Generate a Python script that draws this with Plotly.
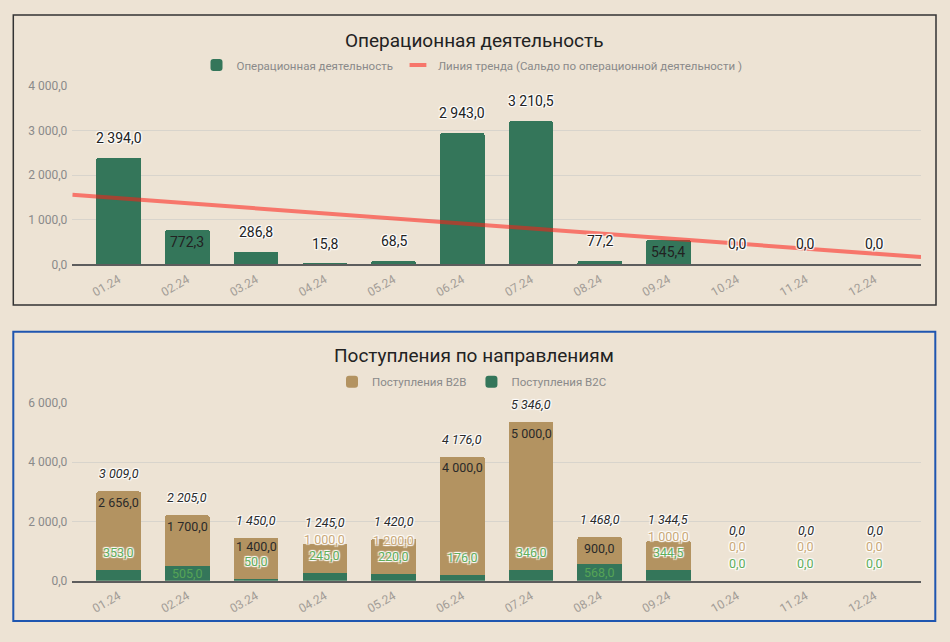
import numpy as np
import plotly.graph_objects as go

# ---------------- data ----------------
months = ["01.24", "02.24", "03.24", "04.24", "05.24", "06.24",
          "07.24", "08.24", "09.24", "10.24", "11.24", "12.24"]
op_values = [2394.0, 772.3, 286.8, 15.8, 68.5, 2943.0, 3210.5, 77.2, 545.4, 0.0, 0.0, 0.0]
b2b_values = [2656.0, 1700.0, 1400.0, 1000.0, 1200.0, 4000.0, 5000.0, 900.0, 1000.0, 0.0, 0.0, 0.0]
b2c_values = [353.0, 505.0, 50.0, 245.0, 220.0, 176.0, 346.0, 568.0, 344.5, 0.0, 0.0, 0.0]
top_ticks = [0, 1000, 2000, 3000, 4000]
bottom_ticks = [0, 2000, 4000, 6000]

title_top = "Операционная деятельность"
title_bottom = "Поступления по направлениям"
name_op = "Операционная деятельность"
name_trend = "Линия тренда (Сальдо по операционной деятельности )"
name_b2b = "Поступления B2B"
name_b2c = "Поступления B2C"

# ---------------- style / geometry ----------------
W, H = 950, 642
BG = "#ede3d4"
GREEN = "#34765a"
TAN = "#b39361"
TREND = "rgba(255,30,20,0.55)"
FONT = "Roboto"
HALO = "1px 1px 1px #fff, -1px -1px 1px #fff, 1px -1px 1px #fff, -1px 1px 1px #fff"

PL, PR = 72.3, 921.0
TOP_B, TOP_T = 264.3, 86.0
BOT_B, BOT_T = 580.7, 402.7
XR = [-0.675, 11.675]
TOP_MAX, BOT_MAX = 4000, 6000


def py(p):
    return 1 - p / H


def fmt(v):
    return f"{v:,.1f}".replace(",", " ").replace(".", ",")


idx = np.arange(len(months))
fig = go.Figure()

# top chart
fig.add_trace(go.Bar(x=idx, y=op_values, name=name_op, marker=dict(color=GREEN, cornerradius=2),
                     width=0.65, xaxis="x", yaxis="y", legend="legend"))
coef = np.polyfit(idx, op_values, 1)
fig.add_trace(go.Scatter(x=XR, y=np.polyval(coef, XR), mode="lines", showlegend=False,
                         line=dict(color=TREND, width=4), xaxis="x", yaxis="y", hoverinfo="skip"))
fig.add_trace(go.Scatter(x=[None], y=[None], mode="markers", name=name_trend,
                         marker=dict(symbol="line-ew", size=12, line=dict(color=TREND, width=4)),
                         xaxis="x", yaxis="y", legend="legend"))

# bottom chart
fig.add_trace(go.Bar(x=idx, y=b2c_values, name=name_b2c, marker=dict(color=GREEN, cornerradius=2),
                     width=0.65, xaxis="x2", yaxis="y2", legend="legend2"))
fig.add_trace(go.Bar(x=idx, y=b2b_values, name=name_b2b, marker=dict(color=TAN, cornerradius=2),
                     width=0.65, xaxis="x2", yaxis="y2", legend="legend2"))

ann = []
# top labels
ppu_t = (TOP_B - TOP_T) / TOP_MAX
for i, v in enumerate(op_values):
    bar_px = v * ppu_t
    out_px = bar_px + 20
    trend_px = np.polyval(coef, i) * ppu_t
    inside = abs(out_px - trend_px) < 20 and bar_px >= 20
    ann.append(dict(x=i, y=v, xref="x", yref="y", text=fmt(v), showarrow=False,
                    yshift=-12 if inside else 20,
                    font=dict(family=FONT, size=14, color="#222",
                              shadow="none" if inside else HALO)))

# bottom labels
ppu_b = (BOT_B - BOT_T) / BOT_MAX
for i, (b, c) in enumerate(zip(b2b_values, b2c_values)):
    tot = b + c
    c_px = c * ppu_b
    tot_px = tot * ppu_b
    c_inside = c_px >= 14
    c_lab = c_px / 2 if c_inside else c_px + 17.5
    b_in = tot_px - 11
    b_inside = b > 0 and (b_in - c_lab) >= 10
    b_lab = max(b_in, c_lab + 15.5) if b_inside else c_lab + 16.5
    t_lab = max(tot_px + 17.5, b_lab + 16.5)
    ann.append(dict(x=i, y=0, xref="x2", yref="y2", text=fmt(c), showarrow=False, yshift=c_lab,
                    font=dict(family=FONT, size=12.5, color="#5fae5c" if not c_inside else "#56a456",
                              shadow="none" if c_inside else HALO)))
    ann.append(dict(x=i, y=0, xref="x2", yref="y2", text=fmt(b), showarrow=False, yshift=b_lab,
                    font=dict(family=FONT, size=12.5, color="#2a2a2a" if b_inside else "#caa978",
                              shadow="none" if b_inside else HALO)))
    ann.append(dict(x=i, y=0, xref="x2", yref="y2", text=fmt(tot), showarrow=False, yshift=t_lab,
                    font=dict(family=FONT, size=12.5, color="#2a2a2a", style="italic", shadow=HALO)))

# titles
ann.append(dict(x=474 / W, y=py(40), xref="paper", yref="paper", text=title_top, showarrow=False,
                xanchor="center", yanchor="middle", font=dict(family=FONT, size=19, color="#222")))
ann.append(dict(x=474 / W, y=py(355), xref="paper", yref="paper", text=title_bottom, showarrow=False,
                xanchor="center", yanchor="middle", font=dict(family=FONT, size=19, color="#222")))

shapes = [
    dict(type="rect", xref="paper", yref="paper", x0=13.3 / W, x1=936 / W, y0=py(305), y1=py(15),
         line=dict(color="#333", width=1.5), layer="below"),
    dict(type="rect", xref="paper", yref="paper", x0=13.3 / W, x1=935.3 / W, y0=py(621), y1=py(331.7),
         line=dict(color="#1f56b0", width=2), layer="below"),
]

xcommon = dict(range=XR, tickvals=list(idx), ticktext=months, tickangle=-30,
               tickfont=dict(family=FONT, size=12, color="#a39d97"), showgrid=False,
               showline=True, linecolor="#5d5d5d", linewidth=1.5, zeroline=False, ticks="",
               domain=[PL / W, PR / W], fixedrange=True, automargin=False, ticklabelstandoff=2)
ycommon = dict(tickformat=",.1f", tickfont=dict(family=FONT, size=12, color="#8a8a8a"),
               gridcolor="#d8d4cc", gridwidth=1, zeroline=False, showline=False, ticks="",
               fixedrange=True, ticklabelstandoff=4, automargin=False)

legend_common = dict(orientation="h", xanchor="center", yanchor="middle", bgcolor="rgba(0,0,0,0)",
                     font=dict(family=FONT, size=11.5, color="#8a8a8a"), itemclick=False)

fig.update_layout(
    template="none",
    width=W, height=H, margin=dict(l=0, r=0, t=0, b=0, pad=0, autoexpand=False),
    paper_bgcolor=BG, plot_bgcolor=BG, barmode="stack", separators=", ",
    font=dict(family=FONT),
    xaxis=dict(**xcommon, anchor="y"),
    yaxis=dict(**ycommon, range=[0, TOP_MAX], tickvals=top_ticks, domain=[py(TOP_B), py(TOP_T)],
               anchor="x"),
    xaxis2=dict(**xcommon, anchor="y2"),
    yaxis2=dict(**ycommon, range=[0, BOT_MAX], tickvals=bottom_ticks, domain=[py(BOT_B), py(BOT_T)],
                anchor="x2"),
    legend=dict(**legend_common, x=472 / W, y=py(65), traceorder="normal"),
    legend2=dict(**legend_common, x=472 / W, y=py(381.7), traceorder="reversed"),
    annotations=ann, shapes=shapes, showlegend=True,
)

fig.write_html("out.html", config={"displayModeBar": False},
               post_script="document.body.style.margin='0';document.body.style.overflow='hidden';")
